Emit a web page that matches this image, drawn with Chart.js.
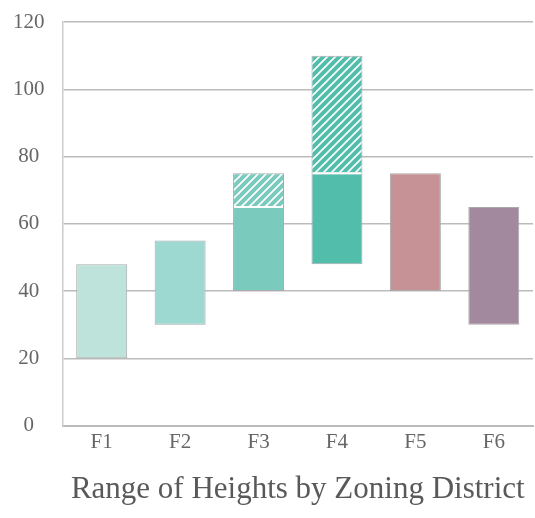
<!DOCTYPE html>
<html>
<head>
<meta charset="utf-8">
<script src="https://cdn.jsdelivr.net/npm/chart.js@4/dist/chart.umd.min.js"></script>
<style>
  html, body { margin: 0; padding: 0; background: #fff; }
  #wrap { width: 535px; height: 518px; }
</style>
</head>
<body>
<div id="wrap"><canvas id="heights_chart"></canvas></div>
<script>
const districts   = ['F1', 'F2', 'F3', 'F4', 'F5', 'F6'];
const base_low    = [20, 30, 40, 48, 40, 30];
const base_high   = [48, 55, 65, 75, 75, 65];
const bonus_low   = [null, null, 65, 75, null, null];
const bonus_high  = [null, null, 75, 110, null, null];
const bar_colors  = ['#bde3da', '#9dd8d1', '#7acabd', '#52bdab', '#c79296', '#a3899d'];

// white diagonal stripes over the district colour
function hatch(color) {
  const size = 8;
  const c = document.createElement('canvas');
  c.width = size; c.height = size;
  const g = c.getContext('2d');
  g.fillStyle = color;
  g.fillRect(0, 0, size, size);
  g.strokeStyle = '#ffffff';
  g.lineWidth = 1.6;
  g.beginPath();
  g.moveTo(0, size); g.lineTo(size, 0);
  g.moveTo(-size / 2, size / 2); g.lineTo(size / 2, -size / 2);
  g.moveTo(size / 2, size * 1.5); g.lineTo(size * 1.5, size / 2);
  g.stroke();
  return g.createPattern(c, 'repeat');
}

const base_data  = districts.map((d, i) => [base_low[i], base_high[i]]);
const bonus_data = districts.map((d, i) => bonus_low[i] === null ? null : [bonus_low[i], bonus_high[i]]);
const bonus_colors = bar_colors.map(c => hatch(c));

const serif = "'Liberation Serif', 'DejaVu Serif', serif";

// thin white seam where the hatched part sits on the solid part
const seam = {
  id: 'seam',
  afterDatasetsDraw(chart) {
    const ctx = chart.ctx;
    chart.getDatasetMeta(1).data.forEach((bar, i) => {
      if (bonus_low[i] === null) return;
      const half = bar.width / 2;
      ctx.save();
      ctx.strokeStyle = '#ffffff';
      ctx.lineWidth = 2;
      ctx.beginPath();
      ctx.moveTo(bar.x - half + 1, bar.base);
      ctx.lineTo(bar.x + half - 1, bar.base);
      ctx.stroke();
      ctx.restore();
    });
  }
};

new Chart('heights_chart', {
  type: 'bar',
  data: {
    labels: districts,
    datasets: [{
      label: 'Base',
      data: base_data,
      backgroundColor: bar_colors,
      borderColor: '#aaaaaa',
      borderWidth: 1,
      borderSkipped: false,
      grouped: false,
      barPercentage: 0.65,
      categoryPercentage: 1.0
    }, {
      label: 'Bonus',
      data: bonus_data,
      backgroundColor: bonus_colors,
      borderColor: '#aaaaaa',
      borderWidth: 1,
      borderSkipped: false,
      grouped: false,
      barPercentage: 0.65,
      categoryPercentage: 1.0
    }]
  },
  options: {
    responsive: true,
    maintainAspectRatio: false,
    animation: false,
    layout: { padding: { top: 22, right: 2, left: -5, bottom: 10 } },
    plugins: {
      legend: { display: false },
      tooltip: { enabled: false }
    },
    scales: {
      x: {
        grid: { display: false, drawTicks: false },
        border: { color: '#bbbbbb', width: 2 },
        ticks: { color: '#666666', font: { family: serif, size: 21 }, padding: 4 },
        title: {
          display: true,
          text: 'Range of Heights by Zoning District',
          color: '#595959',
          font: { family: serif, size: 31, weight: 'normal' },
          padding: { top: 12, bottom: 0 }
        }
      },
      y: {
        min: 0,
        max: 120,
        ticks: { stepSize: 20, color: '#666666', font: { family: serif, size: 21 }, padding: 18, crossAlign: 'center' },
        grid: { color: '#bbbbbb', lineWidth: 1.5, drawTicks: false },
        border: { color: '#cccccc', width: 1.5 },
        afterFit: function(scale) {
          // tick padding is otherwise added above and below the axis too
          scale.paddingTop = 0;
          scale.paddingBottom = 0;
        }
      }
    }
  },
  plugins: [seam]
});
</script>
</body>
</html>
